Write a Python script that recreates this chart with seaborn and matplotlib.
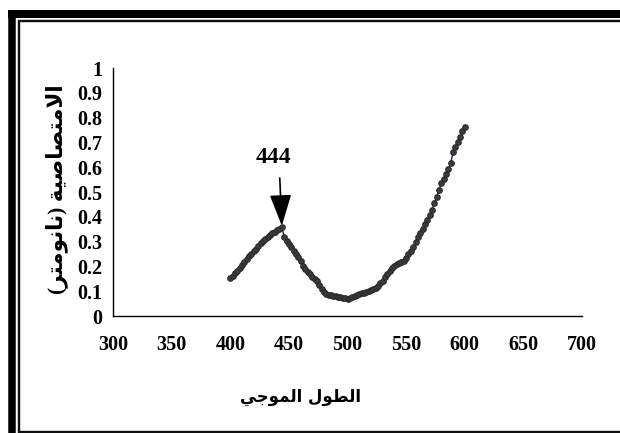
import matplotlib
matplotlib.use("Agg")
import matplotlib.pyplot as plt
from matplotlib.lines import Line2D
import seaborn as sns
import pandas as pd

# ---- data -------------------------------------------------------------
wavelength = list(range(400, 601, 2))
absorbance = [
    0.152, 0.162, 0.172, 0.183, 0.195, 0.206, 0.218, 0.228, 0.240, 0.250,
    0.262, 0.272, 0.283, 0.294, 0.304, 0.312, 0.318, 0.326, 0.333, 0.340,
    0.346, 0.352, 0.360, 0.318, 0.302, 0.290, 0.278, 0.262, 0.248, 0.236,
    0.222, 0.203, 0.190, 0.178, 0.168, 0.158, 0.150, 0.140, 0.124, 0.110,
    0.098, 0.090, 0.086, 0.083, 0.080, 0.079, 0.077, 0.076, 0.074, 0.072,
    0.070, 0.071, 0.075, 0.080, 0.084, 0.088, 0.091, 0.094, 0.097, 0.100,
    0.103, 0.108, 0.113, 0.122, 0.132, 0.143, 0.156, 0.170, 0.182, 0.194,
    0.203, 0.208, 0.213, 0.217, 0.222, 0.232, 0.248, 0.262, 0.278, 0.298,
    0.318, 0.335, 0.352, 0.370, 0.388, 0.408, 0.428, 0.455, 0.480, 0.510,
    0.535, 0.553, 0.573, 0.592, 0.615, 0.660, 0.680, 0.700, 0.720, 0.745,
    0.763,
]
peak_wavelength = 444
peak_absorbance = 0.360

x_ticks = [300, 350, 400, 450, 500, 550, 600, 650, 700]
y_ticks = [0, 0.1, 0.2, 0.3, 0.4, 0.5, 0.6, 0.7, 0.8, 0.9, 1]
y_tick_labels = ["0", "0.1", "0.2", "0.3", "0.4", "0.5", "0.6", "0.7", "0.8", "0.9", "1"]

x_title = "الطول الموجي"
y_title = "الامتصاصية (نانومتر)"


# ---- minimal Arabic shaping (matplotlib lays glyphs out one by one) ----
FORMS = {  # isolated, final, initial, medial
    "ا": ("\uFE8D", "\uFE8E", None, None),
    "ل": ("\uFEDD", "\uFEDE", "\uFEDF", "\uFEE0"),
    "م": ("\uFEE1", "\uFEE2", "\uFEE3", "\uFEE4"),
    "ت": ("\uFE95", "\uFE96", "\uFE97", "\uFE98"),
    "ص": ("\uFEB9", "\uFEBA", "\uFEBB", "\uFEBC"),
    "ي": ("\uFEF1", "\uFEF2", "\uFEF3", "\uFEF4"),
    "ة": ("\uFE93", "\uFE94", None, None),
    "ن": ("\uFEE5", "\uFEE6", "\uFEE7", "\uFEE8"),
    "و": ("\uFEED", "\uFEEE", None, None),
    "ر": ("\uFEAD", "\uFEAE", None, None),
    "ط": ("\uFEC1", "\uFEC2", "\uFEC3", "\uFEC4"),
    "ج": ("\uFE9D", "\uFE9E", "\uFE9F", "\uFEA0"),
    "LA": ("\uFEFB", "\uFEFC", None, None),
}


def shape_arabic(text):
    units = []
    i = 0
    while i < len(text):
        if text[i] == "ل" and i + 1 < len(text) and text[i + 1] == "ا":
            units.append("LA")
            i += 2
        else:
            units.append(text[i])
            i += 1
    out = []
    for k, u in enumerate(units):
        if u not in FORMS:
            out.append(u)
            continue
        prev = units[k - 1] if k > 0 else None
        nxt = units[k + 1] if k + 1 < len(units) else None
        joins_prev = prev in FORMS and FORMS[prev][2] is not None
        joins_next = nxt in FORMS and FORMS[u][2] is not None
        iso, fin, ini, med = FORMS[u]
        if joins_prev and joins_next:
            out.append(med)
        elif joins_prev:
            out.append(fin)
        elif joins_next:
            out.append(ini)
        else:
            out.append(iso)
    visual = "".join(reversed(out))
    return visual.translate(str.maketrans("()", ")("))


# ---- figure -----------------------------------------------------------
sns.set_theme(style="white")
plt.rcParams["font.family"] = ["Liberation Serif", "DejaVu Sans"]
plt.rcParams["font.weight"] = "bold"

W, H = 620, 433
fig = plt.figure(figsize=(W / 100, H / 100), dpi=100)
fig.patch.set_facecolor("white")
ax = fig.add_axes([113 / W, 1 - 316 / H, (582 - 113) / W, (316 - 68) / H])
ax.set_facecolor("white")

df = pd.DataFrame({"wavelength": wavelength, "absorbance": absorbance})
sns.lineplot(
    data=df, x="wavelength", y="absorbance", ax=ax,
    color="#1a1a80", linewidth=1.0,
    marker="o", markersize=4.0,
    markerfacecolor="#3c3c3c", markeredgecolor="#2a2a2a", markeredgewidth=0.8,
)

ax.set_xlim(300, 700)
ax.set_ylim(0, 1)
ax.set_xticks(x_ticks)
ax.set_yticks(y_ticks)
ax.set_yticklabels(y_tick_labels)
ax.set_xlabel("")
ax.set_ylabel("")

for side in ("top", "right"):
    ax.spines[side].set_visible(False)
for side in ("left", "bottom"):
    ax.spines[side].set_color("black")
    ax.spines[side].set_linewidth(1.0)

ax.tick_params(axis="both", which="major", direction="out", length=3.5,
               width=1.0, color="black", labelcolor="black")
ax.tick_params(axis="x", pad=10, labelsize=14.5)
ax.tick_params(axis="y", pad=4, labelsize=14.5)
for lab in ax.get_xticklabels() + ax.get_yticklabels():
    lab.set_fontweight("bold")
    lab.set_family("Liberation Serif")

# peak annotation
ax.annotate(
    str(peak_wavelength),
    xy=(peak_wavelength, peak_absorbance + 0.004),
    xytext=(peak_wavelength - 7, 0.64),
    ha="center", va="center",
    fontsize=17, fontweight="bold", family="Liberation Serif", color="black",
    arrowprops=dict(arrowstyle="-|>,head_length=1.15,head_width=0.4",
                    color="black", lw=1.2, shrinkA=5, shrinkB=0,
                    relpos=(0.66, 0.0)),
)

# axis titles
fig.text(300.7 / W, 1 - 397 / H, shape_arabic(x_title),
         ha="center", va="center", fontsize=12, fontweight="bold",
         family=["DejaVu Sans"], color="black")
fig.text(57 / W, 1 - 189 / H, shape_arabic(y_title),
         ha="center", va="center", rotation=90, fontsize=15.5,
         fontweight="bold", family=["Liberation Serif", "DejaVu Sans"],
         color="black")

# double frame around the chart area
def px_line(xs, ys, lw_px, color):
    fig.add_artist(Line2D([x / W for x in xs], [1 - y / H for y in ys],
                          transform=fig.transFigure, color=color,
                          linewidth=lw_px * 0.72, solid_capstyle="butt"))

px_line([11.5, 11.5], [10, H + 10], 7.5, "black")
px_line([8, W + 10], [14, 14], 8, "black")
px_line([19, 19], [20, H + 10], 2.4, "#111111")
px_line([18, W + 10], [21.3, 21.3], 2.4, "#111111")
px_line([18, W + 10], [431.5, 431.5], 2.4, "#111111")

fig.savefig("out.png", dpi=100, facecolor="white")
